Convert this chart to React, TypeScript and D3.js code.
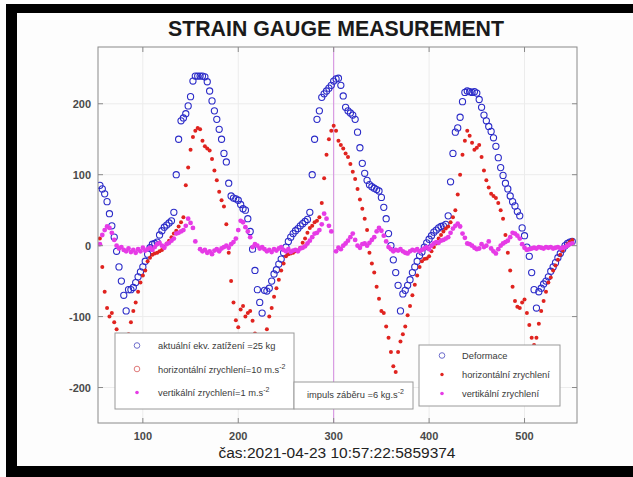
import React from 'react';
import * as d3 from 'd3';

const W = 633;
const H = 477;

// sampling of the time axis
const timeStart = 55;
const timeStep = 2.5;

// Deformace (blue open circles)
const deformace = [
  85, 80, 73, 62, 45, 28, 12, -8, -30, -50,
  -70, -92, -62, -62, -59, -52, -44, -37, -30, -22,
  -12, -3, 2, 3, 5, 15, 21, 26, 29, 32,
  35, 47, 100, 150, 176, 180, 186, 197, 210, 232,
  239, 239, 239, 239, 238, 231, 218, 204, 190, 178,
  164, 150, 130, 118, 88, 70, 67, 66, 64, 58,
  52, 50, 38, 20, -5, -35, -62, -80, -95, -63,
  -64, -60, -50, -40, -34, -26, -19, -10, -2, 6,
  12, 17, 21, 24, 28, 31, 34, 37, 47, 100,
  150, 178, 190, 209, 214, 218, 222, 226, 232, 235,
  236, 226, 211, 195, 190, 187, 184, 178, 160, 138,
  116, 102, 92, 86, 83, 81, 79, 77, 68, 54,
  38, 17, 0, -20, -38, -56, -92, -68, -63, -56,
  -48, -38, -30, -22, -14, -9, -2, 4, 9, 14,
  19, 22, 25, 27, 28, 30, 42, 90, 130, 160,
  166, 181, 203, 216, 218, 217, 216, 217, 215, 206,
  195, 184, 176, 168, 161, 152, 140, 124, 110, 99,
  88, 80, 70, 62, 56, 48, 42, 25, 14, -2,
  -15, -38, -62, -88, -65, -60, -54, -50, -44, -36,
  -30, -24, -17, -11, -5, 0, 3, 5, 6,
];

// horizontální zrychlení (red dots)
const horizontal = [
  10, -30, -65, -88, -100, -95, -108, -118, -130, -140,
  -145, -140, -125, -108, -92, -80, -65, -52, -42, -35,
  -22, -17, -13, -11, -10, -8, -6, -2, 3, 7,
  12, 17, 21, 27, 33, 40, 85, 110, 135, 153,
  162, 166, 164, 148, 140, 137, 134, 122, 106, 92,
  76, 64, 55, 30, -10, -50, -80, -105, -115, -90,
  -85, -100, -95, -92, -106, -124, -140, -150, -148, -135,
  -118, -100, -88, -72, -60, -48, -35, -25, -15, -12,
  -11, -10, -8, -7, -3, 4, 10, 18, 25, 28,
  33, 35, 40, 60, 95, 128, 150, 162, 169, 162,
  148, 142, 137, 130, 125, 115, 104, 94, 80, 65,
  52, 38, 22, -10, -25, -38, -58, -75, -92, -95,
  -114, -130, -150, -170, -178, -150, -135, -125, -114, -98,
  -85, -70, -55, -42, -30, -22, -19, -18, -15, -8,
  -2, 3, 10, 15, 20, 24, 27, 33, 40, 50,
  72, 100, 128, 148, 162, 155, 145, 135, 138, 142,
  125, 106, 92, 82, 73, 70, 67, 60, 50, 38,
  15, -10, -35, -58, -78, -86, -88, -80, -76, -95,
  -112, -130, -140, -130, -110, -92, -78, -65, -52, -45,
  -35, -28, -20, -13, -7, -2, 2, 5, 8,
];

// vertikální zrychlení (magenta dots)
const vertical = [
  2, 15, 22, 27, 25, 18, 8, 0, -4, -2,
  -6, -8, -4, -9, -6, -10, -5, -8, -3, -7,
  -5, -3, -6, -2, 2, 4, 0, -3, 2, 4,
  7, 10, 17, 18, 20, 22, 28, 38, 32, 25,
  6, null, -5, -8, -6, -10, -8, -12, -7, -5,
  -8, -4, -2, 0, -3, 2, 5, 10, 22, 35,
  33, 26, 20, 12, -2, 2, 0, -4, -2, -5,
  -8, -6, -9, -5, -7, -4, -2, -6, -8, -5,
  -9, -7, -6, -8, -4, -3, -1, 3, 7, 12,
  17, 18, 22, 30, 45, 38, 28, 20, null, -8,
  -3, -5, 0, 3, 7, 12, 17, 8, 0, -3,
  2, 3, 0, 4, 8, 12, 20, 25, 21, 14,
  6, -2, -5, -8, -6, -7, -5, -8, -10, -11,
  -8, -6, -7, -5, -8, -6, -4, -2, -5, 0,
  3, 5, 4, 7, 8, 10, 12, 18, 24, 28,
  31, 27, 17, 11, 3, 2, 0, -3, -5, -4,
  2, -2, 0, 6, -4, -8, -11, -5, 0, 3,
  5, 7, 12, 18, 17, 14, 10, 2, -3, -6,
  -5, -4, -3, -4, -2, -3, -4, -2, -3, -2,
  -4, -3, -2, -4, -3, -2, 0, 2, 3,
];

const xTicks = [100, 200, 300, 400, 500];
const yTicks = [-200, -100, 0, 100, 200];
const impulsTime = 300;

const titleText = 'STRAIN GAUGE MEASUREMENT';
const timeLabel = 'čas:2021-04-23 10:57:22:5859374';
const legendLeft = [
  { label: 'aktuální ekv. zatížení =25 kg', sup: '', kind: 'openBlue' },
  { label: 'horizontální zrychlení=10 m.s', sup: '-2', kind: 'openRed' },
  { label: 'vertikální zrychlení=1 m.s', sup: '-2', kind: 'dotMagenta' },
];
const impulsLabel = { label: 'impuls záběru =6 kg.s', sup: '-2' };
const legendRight = [
  { label: 'Deformace', kind: 'openBlue' },
  { label: 'horizontální zrychlení', kind: 'dotRed' },
  { label: 'vertikální zrychlení', kind: 'dotMagenta' },
];

const BLUE = '#2b2bc8';
const RED = '#e0231f';
const MAGENTA = '#e63be6';
const FONT = "'Liberation Sans', Arial, Helvetica, sans-serif";

function Marker({ kind, cx, cy }: { kind: string; cx: number; cy: number }) {
  if (kind === 'openBlue') return <circle cx={cx} cy={cy} r={2.8} fill="none" stroke="#6d6dcc" strokeWidth={1} />;
  if (kind === 'openRed') return <circle cx={cx} cy={cy} r={2.8} fill="none" stroke="#e07a7a" strokeWidth={1} />;
  if (kind === 'dotRed') return <circle cx={cx} cy={cy} r={1.7} fill={RED} />;
  return <circle cx={cx} cy={cy} r={1.8} fill={MAGENTA} />;
}

export default function App() {
  const left = 98, right = 577, top = 47, bottom = 423;
  const x = d3.scaleLinear().domain([53, 555]).range([left, right]);
  const y = d3.scaleLinear().domain([-250, 280]).range([bottom, top]);
  const t = (i: number) => timeStart + i * timeStep;

  const tickColor = '#8a8a8a';

  return (
    <svg width={W} height={H} style={{ position: 'absolute', left: 0, top: 0, background: '#fdfdfd' }} fontFamily={FONT}>
      <rect x={0} y={0} width={W} height={H} fill="#fdfdfd" />
      {/* photo frame */}
      <rect x={6} y={4} width={W - 6} height={9} fill="#000" />
      <rect x={6} y={4} width={11} height={H - 4} fill="#000" />
      <rect x={6} y={466} width={W - 6} height={11} fill="#000" />

      <defs>
        <clipPath id="plotClip">
          <rect x={left} y={top} width={right - left} height={bottom - top} />
        </clipPath>
      </defs>

      {/* title */}
      <text x={336} y={36} textAnchor="middle" fontSize={21.3} fontWeight="bold" fill="#1a1a1a">{titleText}</text>

      {/* grid */}
      <g stroke="#ececec" strokeWidth={1}>
        {xTicks.map((v) => <line key={'gx' + v} x1={x(v)} x2={x(v)} y1={top} y2={bottom} />)}
        {yTicks.map((v) => <line key={'gy' + v} x1={left} x2={right} y1={y(v)} y2={y(v)} />)}
      </g>

      {/* impulse line */}
      <line x1={x(impulsTime)} x2={x(impulsTime)} y1={top} y2={bottom} stroke="#d48ce0" strokeWidth={1} />

      {/* data */}
      <g clipPath="url(#plotClip)">
        {deformace.map((v, i) => (
          <circle key={'b' + i} cx={x(t(i))} cy={y(v)} r={3.1} fill="none" stroke={BLUE} strokeWidth={1.1} />
        ))}
        {horizontal.map((v, i) => (
          <circle key={'r' + i} cx={x(t(i))} cy={y(v)} r={2} fill={RED} />
        ))}
        {vertical.map((v, i) => (v === null ? null : (
          <circle key={'m' + i} cx={x(t(i))} cy={y(v as number)} r={2.4} fill={MAGENTA} />
        )))}
      </g>

      {/* axes box */}
      <rect x={left} y={top} width={right - left} height={bottom - top} fill="none" stroke={tickColor} strokeWidth={1} />
      <g stroke={tickColor} strokeWidth={1}>
        {xTicks.map((v) => (
          <g key={'tx' + v}>
            <line x1={x(v)} x2={x(v)} y1={bottom} y2={bottom - 5} />
            <line x1={x(v)} x2={x(v)} y1={top} y2={top + 5} />
          </g>
        ))}
        {yTicks.map((v) => (
          <g key={'ty' + v}>
            <line x1={left} x2={left + 5} y1={y(v)} y2={y(v)} />
            <line x1={right} x2={right - 5} y1={y(v)} y2={y(v)} />
          </g>
        ))}
      </g>
      <g fontSize={11} fill="#4a4a4a" fontWeight="bold">
        {xTicks.map((v) => (
          <text key={'lx' + v} x={x(v)} y={bottom + 17} textAnchor="middle">{v}</text>
        ))}
        {yTicks.map((v) => (
          <text key={'ly' + v} x={left - 7} y={y(v) + 4} textAnchor="end">{v}</text>
        ))}
      </g>

      {/* left legend */}
      <rect x={115} y={333} width={179} height={76} fill="#fff" stroke="#9a9a9a" strokeWidth={1} />
      {legendLeft.map((d, i) => (
        <g key={'ll' + i}>
          <Marker kind={d.kind} cx={137} cy={345.5 + i * 23.5} />
          <text x={158} y={349 + i * 23.5} fontSize={9.3} fill="#3a3a3a">
            {d.label}
            {d.sup ? <tspan dy={-4} fontSize={7}>{d.sup}</tspan> : null}
          </text>
        </g>
      ))}

      {/* impulse legend */}
      <rect x={294} y={382} width={119} height={27} fill="#fff" stroke="#9a9a9a" strokeWidth={1} />
      <text x={307} y={398} fontSize={9.3} fill="#3a3a3a">
        {impulsLabel.label}
        <tspan dy={-4} fontSize={7}>{impulsLabel.sup}</tspan>
      </text>

      {/* right legend */}
      <rect x={419} y={345} width={141} height={61} fill="#fff" stroke="#9a9a9a" strokeWidth={1} />
      {legendRight.map((d, i) => (
        <g key={'lr' + i}>
          <Marker kind={d.kind} cx={442} cy={355.5 + i * 19} />
          <text x={462} y={359 + i * 19} fontSize={9.3} fill="#3a3a3a">{d.label}</text>
        </g>
      ))}

      {/* x label */}
      <text x={337} y={458} textAnchor="middle" fontSize={15.5} fill="#222">{timeLabel}</text>
    </svg>
  );
}
